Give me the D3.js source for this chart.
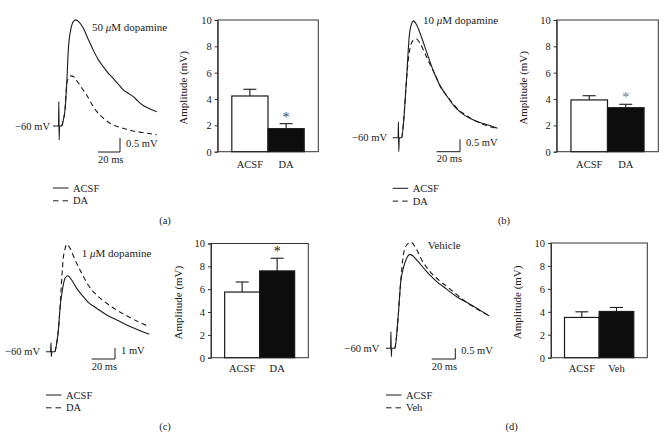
<!DOCTYPE html>
<html><head><meta charset="utf-8">
<script src="https://cdn.jsdelivr.net/npm/d3@7"></script>
<style>
body{margin:0;background:#fff;}
svg{display:block;font-family:"Liberation Serif","DejaVu Serif",serif;}
</style></head>
<body><svg id="c" width="667" height="434"></svg>
<script>
// ---------- DATA ----------
// traces: [time ms, mV relative to -60 mV baseline]
const traceA_ACSF = [[0,0],[5.0,0],[5.3,0.87],[5.6,-0.5],[6.0,0],[7.9,0],[9.3,0.2],[10.9,0.57],[12.5,1.52],[13.9,2.71],[16.1,3.43],[18.5,3.73],[20.9,3.79],[23.5,3.72],[27.5,3.5],[32,3.1],[36.6,2.71],[41,2.38],[45.7,2.12],[50,1.9],[54.8,1.7],[59.2,1.5],[63.9,1.29],[68.4,1.17],[73,1.05],[77.5,0.88],[82.1,0.73],[86.5,0.64],[90.5,0.57],[94.3,0.51]];
const traceA_DA   = [[7.9,0],[9.3,0.2],[10.9,0.57],[12.5,1.52],[14.1,1.71],[16.1,1.79],[19.1,1.75],[21.5,1.62],[24.5,1.46],[27.5,1.28],[30.6,1.11],[33.6,0.9],[36.6,0.69],[39.6,0.53],[42.7,0.39],[47,0.24],[51.8,0.1],[56,0.02],[60.9,-0.05],[67,-0.12],[73,-0.18],[79,-0.22],[85.2,-0.26],[94.3,-0.31]];
const traceB_ACSF = [[0,0],[4.6,0],[4.9,0.64],[5.2,-0.56],[5.6,0],[7.8,0],[9.6,0.8],[11.6,2.18],[14.4,4.19],[16.2,4.6],[17.9,4.71],[20.5,4.55],[23.7,4.18],[29.6,3.38],[35.3,2.64],[40,2.15],[44,1.84],[48.5,1.54],[52.7,1.27],[57,1.07],[61.4,0.91],[67,0.76],[73,0.64],[77.5,0.57],[81.7,0.51],[89.8,0.38]];
const traceB_DA   = [[7.8,0],[9.6,0.8],[11.6,2.18],[13.5,3.2],[15.0,3.64],[17.5,3.92],[20.3,3.98],[23.5,3.8],[26.6,3.51],[32.4,2.91],[36.8,2.51],[41.1,2.03],[44,1.84],[48.5,1.56],[52.7,1.31],[57,1.1],[61.4,0.95],[67,0.78],[73,0.63],[81.7,0.47],[89.8,0.37]];
const traceC_ACSF = [[0,0],[3.9,0],[4.3,0.82],[4.6,-0.45],[5.0,0],[7.7,0],[9.2,0.8],[10.5,1.82],[12,3.95],[14.3,5.76],[16.3,6.67],[18.6,6.91],[22,6.52],[26.3,5.76],[32,5.0],[36.2,4.49],[43.4,3.95],[52,3.34],[60.6,2.88],[69.2,2.43],[77.7,2.04],[88.5,1.58]];
const traceC_DA   = [[7.7,0],[9.2,0.8],[10.5,1.82],[12,3.95],[13.5,6.67],[14.8,8.49],[16.3,9.34],[17.7,9.76],[20.6,9.4],[24.9,8.34],[30.6,7.13],[36.2,6.06],[43.4,5.15],[52,4.4],[60.6,3.79],[69.2,3.27],[77.7,2.79],[88.5,2.27]];
const traceD_ACSF = [[0,0],[3.9,0],[4.2,0.78],[4.5,-0.39],[4.9,0],[7.6,0],[9,0.6],[10.4,1.56],[12.5,3.13],[14.7,3.76],[17.5,4.23],[20.3,4.41],[23,4.33],[26,4.15],[34.5,3.6],[43,3.13],[51.4,2.78],[59.9,2.42],[68.4,2.16],[76.9,1.88],[87.5,1.52]];
const traceD_Veh  = [[7.6,0],[9,0.6],[10.4,1.56],[12.5,3.13],[14.7,4.38],[17.5,4.85],[21.2,4.98],[24.6,4.77],[30.3,4.15],[37.3,3.6],[43,3.29],[50,2.97],[57,2.66],[65.5,2.27],[74,1.95],[87.5,1.52]];

// bar charts
const yTicks = [0, 2, 4, 6, 8, 10];
const catsA = ["ACSF", "DA"], meanA = [4.23, 1.75], semA = [0.51, 0.38];
const catsB = ["ACSF", "DA"], meanB = [3.93, 3.34], semB = [0.32, 0.26];
const catsC = ["ACSF", "DA"], meanC = [5.75, 7.60], semC = [0.88, 1.11];
const catsD = ["ACSF", "Veh"], meanD = [3.51, 4.03], semD = [0.49, 0.35];
const sigA = [false, true], sigB = [false, true], sigC = [false, true], sigD = [false, false];

const titles = ["50 |μ|M dopamine", "10 |μ|M dopamine", "1 |μ|M dopamine", "Vehicle"];
const legendNames = [["ACSF","DA"],["ACSF","DA"],["ACSF","DA"],["ACSF","Veh"]];
const scaleBarMs = [20, 20, 20, 20];
const scaleBarMV = [0.5, 0.5, 1, 0.5];
const scaleBarMVText = ["0.5 mV", "0.5 mV", "1 mV", "0.5 mV"];
const panelLetters = ["(a)", "(b)", "(c)", "(d)"];

// ---------- LAYOUT ----------
const panels = [
  {tr:[traceA_ACSF, traceA_DA], cats:catsA, mean:meanA, sem:semA, sig:sigA, sigColor:"#444",
   t0x:53, baseY:126, pxms:1.1, pxmV:28, titleX:92, titleY:30.5, mvX:50, sbX:120, sbY:152,
   legX:53, legY:188, letX:165, letY:224,
   bx0:217.7, bx1:318.3, by0:151.7, by1:20, ylabX:187, catY:168},
  {tr:[traceB_ACSF, traceB_DA], cats:catsB, mean:meanB, sem:semB, sig:sigB, sigColor:"#777",
   t0x:392.7, baseY:137.7, pxms:1.167, pxmV:24.8, titleX:423, titleY:24, mvX:387, sbX:460, sbY:151.7,
   legX:392.7, legY:188.3, letX:504, letY:224,
   bx0:556.7, bx1:658.3, by0:151.7, by1:20, ylabX:526.7, catY:168},
  {tr:[traceC_ACSF, traceC_DA], cats:catsC, mean:meanC, sem:semC, sig:sigC, sigColor:"#111",
   t0x:46, baseY:351.7, pxms:1.167, pxmV:11, titleX:81.7, titleY:256.5, mvX:40, sbX:115, sbY:359,
   legX:46, legY:395, letX:165, letY:430,
   bx0:211, bx1:308.3, by0:357.7, by1:243.5, ylabX:181.7, catY:372},
  {tr:[traceD_ACSF, traceD_Veh], cats:catsD, mean:meanD, sem:semD, sig:sigD, sigColor:"#111",
   t0x:386, baseY:348.3, pxms:1.18, pxmV:21.3, titleX:427.7, titleY:249, mvX:379.3, sbX:455.3, sbY:359,
   legX:386, legY:395, letX:511.7, letY:430,
   bx0:551, bx1:647.3, by0:357.7, by1:243, ylabX:520.7, catY:372}
];

const svg = d3.select("#c");
const ink = "#1a1a1a";

function richText(g, str, x, y, opts) {
  const t = g.append("text").attr("x", x).attr("y", y)
    .attr("font-size", opts.size).attr("fill", ink);
  if (opts.anchor) t.attr("text-anchor", opts.anchor);
  str.split("|").forEach((part, i) => {
    const s = t.append("tspan").text(part);
    if (i % 2 === 1) s.attr("font-style", "italic");
  });
  return t;
}

panels.forEach((p, i) => {
  const g = svg.append("g");
  // ----- traces -----
  const x = d3.scaleLinear().domain([0, 100]).range([p.t0x, p.t0x + 100 * p.pxms]);
  const y = d3.scaleLinear().domain([0, 1]).range([p.baseY, p.baseY - p.pxmV]);
  const line = d3.line().x(d => x(d[0])).y(d => y(d[1])).curve(d3.curveMonotoneX);
  g.append("path").datum(p.tr[1]).attr("d", line).attr("fill", "none")
    .attr("stroke", ink).attr("stroke-width", 1.1).attr("stroke-dasharray", "5,3.5");
  g.append("path").datum(p.tr[0]).attr("d", line).attr("fill", "none")
    .attr("stroke", ink).attr("stroke-width", 1.1);

  richText(g, titles[i], p.titleX, p.titleY, {size: 11});
  richText(g, "\u221260 mV", p.mvX, p.baseY + 3.5, {size: 10.5, anchor: "end"});

  // scale bar
  const hLen = x(scaleBarMs[i]) - x(0);
  const vLen = y(0) - y(scaleBarMV[i]);
  g.append("path").attr("d", `M${p.sbX - hLen},${p.sbY}H${p.sbX}V${p.sbY - vLen}`)
    .attr("fill", "none").attr("stroke", ink).attr("stroke-width", 1);
  richText(g, scaleBarMVText[i], p.sbX + 6, p.sbY - 5.5, {size: 10.5});
  richText(g, scaleBarMs[i] + " ms", p.sbX - hLen, p.sbY + 10.5, {size: 10.5});

  // legend
  legendNames[i].forEach((nm, k) => {
    const ly = p.legY + k * 12.8;
    g.append("line").attr("x1", p.legX).attr("x2", p.legX + 15.5).attr("y1", ly).attr("y2", ly)
      .attr("stroke", ink).attr("stroke-width", 1)
      .attr("stroke-dasharray", k === 1 ? "5.5,4" : null);
    richText(g, nm, p.legX + 20, ly + 3.5, {size: 10.5});
  });
  richText(g, panelLetters[i], p.letX, p.letY, {size: 10.5, anchor: "middle"});

  // ----- bar chart -----
  const bx = d3.scaleBand().domain(p.cats).range([p.bx0, p.bx1]).paddingInner(0).paddingOuter(0.39);
  const by = d3.scaleLinear().domain([0, 10]).range([p.by0, p.by1]);
  const bg = g.append("g");
  // frame
  bg.append("rect").attr("x", p.bx0).attr("y", p.by1).attr("width", p.bx1 - p.bx0)
    .attr("height", p.by0 - p.by1).attr("fill", "none").attr("stroke", "#333").attr("stroke-width", 1);
  // error bars
  p.cats.forEach((c, k) => {
    const cx = bx(c) + bx.bandwidth() / 2;
    const top = by(p.mean[k] + p.sem[k]);
    bg.append("line").attr("x1", cx).attr("x2", cx).attr("y1", by(p.mean[k])).attr("y2", top)
      .attr("stroke", ink).attr("stroke-width", 1.1);
    bg.append("line").attr("x1", cx - 6.5).attr("x2", cx + 6.5).attr("y1", top).attr("y2", top)
      .attr("stroke", ink).attr("stroke-width", 1.1);
    if (p.sig[k]) {
      bg.append("text").attr("x", cx).attr("y", top - 2).attr("text-anchor", "middle")
        .attr("font-size", 14).attr("fill", p.sigColor).text("*");
    }
  });
  bg.selectAll("rect.bar").data(p.cats).join("rect").attr("class", "bar")
    .attr("x", d => bx(d)).attr("width", bx.bandwidth())
    .attr("y", (d, k) => by(p.mean[k])).attr("height", (d, k) => p.by0 - by(p.mean[k]))
    .attr("fill", (d, k) => k === 0 ? "#fff" : "#0d0d0d")
    .attr("stroke", ink).attr("stroke-width", 1.2);
  // y axis
  const ax = bg.append("g").attr("transform", `translate(${p.bx0},0)`)
    .call(d3.axisLeft(by).tickValues(yTicks).tickSize(3).tickPadding(3));
  ax.select(".domain").attr("stroke", "#333");
  ax.selectAll(".tick line").attr("stroke", "#333");
  ax.selectAll("text").attr("font-size", 10.5).attr("fill", ink)
    .attr("font-family", "Liberation Serif, serif");
  // bottom axis labels
  const bax = bg.append("g").attr("transform", `translate(0,${p.by0})`)
    .call(d3.axisBottom(bx).tickSize(0).tickPadding(0));
  bax.select(".domain").remove();
  bax.selectAll("text").attr("font-size", 10.5).attr("fill", ink)
    .attr("font-family", "Liberation Serif, serif").attr("dy", null)
    .attr("y", p.catY - p.by0);
  // y label
  bg.append("text").attr("transform", `translate(${p.ylabX},${(p.by0 + p.by1) / 2 + 2}) rotate(-90)`)
    .attr("text-anchor", "middle").attr("font-size", 11).attr("fill", ink)
    .text("Amplitude (mV)");
});
</script></body></html>
